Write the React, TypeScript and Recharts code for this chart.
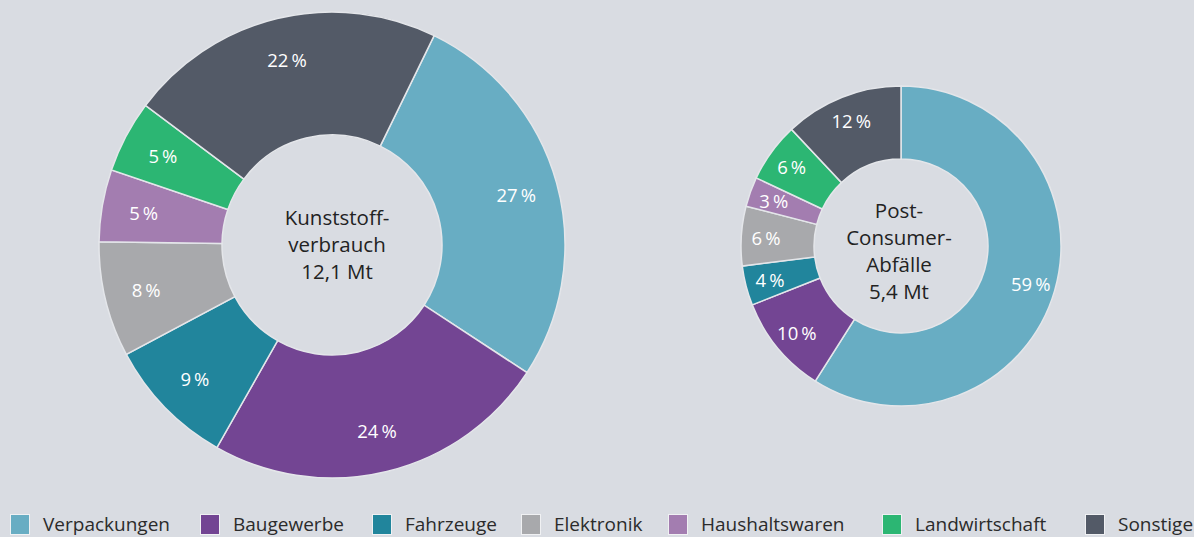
import React from "react";
import { PieChart, Pie, Cell } from "recharts";

const categories = [
  "Verpackungen",
  "Baugewerbe",
  "Fahrzeuge",
  "Elektronik",
  "Haushaltswaren",
  "Landwirtschaft",
  "Sonstige",
];
const consumptionValues = [27, 24, 9, 8, 5, 5, 22];
const wasteValues = [59, 10, 4, 6, 3, 6, 12];
const consumptionTitle = ["Kunststoff-", "verbrauch", "12,1 Mt"];
const wasteTitle = ["Post-", "Consumer-", "Abfälle", "5,4 Mt"];

const COLORS = ["#68adc3", "#734593", "#21859c", "#a8a9ac", "#a37db0", "#2cb673", "#535a67"];
const BG = "#d9dce2";
const FONT = "'Open Sans', 'Noto Sans', sans-serif";
const LEGEND_X = [10, 200, 372, 521, 668, 882, 1085];

const consumptionData = categories.map((name, i) => ({ name, value: consumptionValues[i] }));
const wasteData = categories.map((name, i) => ({ name, value: wasteValues[i] }));

const RAD = Math.PI / 180;

const renderLabel = (props: any) => {
  const { cx, cy, midAngle, innerRadius, outerRadius, value } = props;
  const r = innerRadius + 0.66 * (outerRadius - innerRadius);
  const x = cx + r * Math.cos(-midAngle * RAD);
  const y = cy + r * Math.sin(-midAngle * RAD);
  return (
    <text
      x={x}
      y={y}
      fill="#ffffff"
      fontSize={18.5}
      fontFamily={FONT}
      textAnchor="middle"
      dominantBaseline="central"
    >
      {`${value}\u2009%`}
    </text>
  );
};

export default function App() {
  return (
    <div
      style={{
        position: "fixed",
        left: 0,
        top: 0,
        width: 1194,
        height: 537,
        background: BG,
        overflow: "hidden",
        fontFamily: FONT,
      }}
    >
      <div style={{ position: "absolute", left: 0, top: 0 }}>
        <PieChart width={1194} height={537} margin={{ top: 0, right: 0, bottom: 0, left: 0 }}>
          <Pie
            data={consumptionData}
            dataKey="value"
            nameKey="name"
            cx={332}
            cy={245}
            innerRadius={110}
            outerRadius={233}
            startAngle={64}
            endAngle={-296}
            stroke="#e4e6ea"
            strokeWidth={1.5}
            label={renderLabel}
            labelLine={false}
            isAnimationActive={false}
          >
            {consumptionData.map((d, i) => (
              <Cell key={d.name} fill={COLORS[i]} />
            ))}
          </Pie>
          <Pie
            data={wasteData}
            dataKey="value"
            nameKey="name"
            cx={901}
            cy={246}
            innerRadius={87}
            outerRadius={160}
            startAngle={90}
            endAngle={-270}
            stroke="#e4e6ea"
            strokeWidth={1.5}
            label={renderLabel}
            labelLine={false}
            isAnimationActive={false}
          >
            {wasteData.map((d, i) => (
              <Cell key={d.name} fill={COLORS[i]} />
            ))}
          </Pie>
        </PieChart>
      </div>
      <svg
        width={1194}
        height={537}
        style={{ position: "absolute", left: 0, top: 0, pointerEvents: "none" }}
      >
        {consumptionTitle.map((t, i) => (
          <text
            key={t}
            x={337}
            y={217 + i * 27}
            fontSize={20.5}
            fill="#222"
            fontFamily={FONT}
            textAnchor="middle"
            dominantBaseline="central"
          >
            {t}
          </text>
        ))}
        {wasteTitle.map((t, i) => (
          <text
            key={t}
            x={899}
            y={210 + i * 27}
            fontSize={20.5}
            fill="#222"
            fontFamily={FONT}
            textAnchor="middle"
            dominantBaseline="central"
          >
            {t}
          </text>
        ))}
        {categories.map((c, i) => (
          <g key={c}>
            <rect
              x={LEGEND_X[i] + 0.5}
              y={514.5}
              width={19}
              height={20}
              fill={COLORS[i]}
              stroke="#f0f1f3"
              strokeWidth={1}
            />
            <text
              x={LEGEND_X[i] + 33}
              y={524}
              fontSize={19}
              fill="#2b2b2b"
              fontFamily={FONT}
              dominantBaseline="central"
            >
              {c}
            </text>
          </g>
        ))}
      </svg>
    </div>
  );
}
